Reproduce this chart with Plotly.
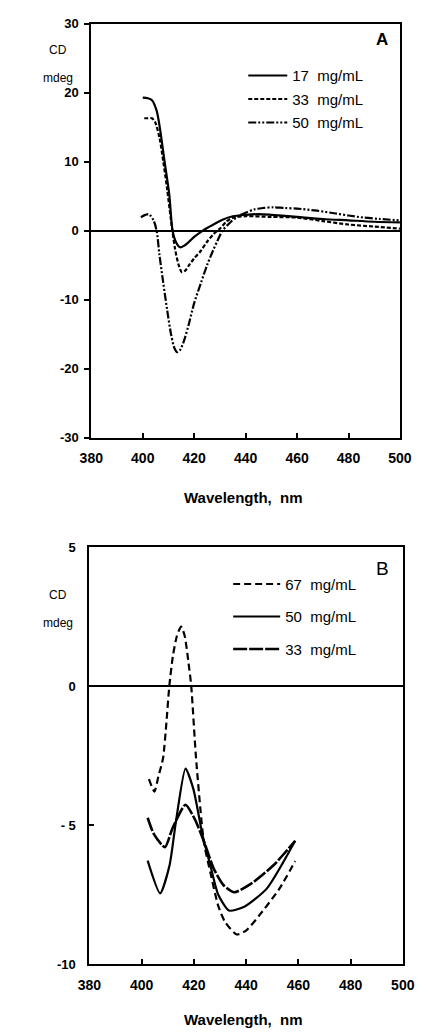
import plotly.graph_objects as go

# ---------------- Panel A data ----------------
wl_a17 = [400, 402, 403.6, 405.4, 406.7, 408.5, 410.3, 411.6, 413, 414.5, 416, 418, 420, 422.5, 425, 428, 431, 435, 440, 445, 450, 460, 470, 480, 490, 500]
cd_a17 = [19.3, 19.2, 18.9, 17.4, 14.8, 10.0, 5.3, 0.0, -1.7, -2.4, -2.2, -1.6, -0.9, -0.2, 0.4, 1.0, 1.6, 2.1, 2.3, 2.4, 2.3, 2.0, 1.7, 1.5, 1.3, 1.2]

wl_a33 = [400.6, 402, 403.6, 404.8, 406.5, 408, 409.5, 411, 412.5, 414, 415.2, 416.5, 418, 420, 422.6, 425, 427.5, 430, 432.5, 435, 440, 450, 460, 470, 480, 490, 500]
cd_a33 = [16.3, 16.3, 16.3, 15.75, 13.5, 10.0, 6.0, 1.5, -2.5, -5.0, -6.0, -5.8, -5.0, -4.0, -2.9, -1.6, -0.5, 0.3, 1.3, 1.9, 2.1, 2.0, 1.9, 1.4, 0.9, 0.6, 0.3]

wl_a50 = [399.3, 401, 402.4, 404.2, 405.4, 406.5, 408, 409.5, 411, 412.3, 413.4, 414.5, 416, 417.8, 420, 422.6, 425, 427.3, 429, 431, 434, 437, 440, 443.4, 447, 450.7, 455, 460, 467.8, 475, 480, 486, 492.3, 500]
cd_a50 = [1.95, 2.3, 2.4, 1.5, 0.0, -3.5, -7.6, -11.5, -15.0, -17.0, -17.6, -17.3, -16.0, -13.7, -10.5, -7.6, -5.0, -2.9, -1.5, 0.0, 1.2, 2.1, 2.6, 3.1, 3.3, 3.4, 3.3, 3.2, 2.9, 2.5, 2.2, 1.9, 1.7, 1.5]

# ---------------- Panel B data ----------------
wl_b67 = [402.8, 404.9, 406.4, 408.2, 409.5, 410.6, 412, 413.5, 415.1, 416.5, 418, 419, 420.8, 423.8, 426.3, 429.3, 432, 436.4, 440, 445.5, 452.7, 458.8]
cd_b67 = [-3.35, -3.8, -3.26, -2.6, -1.3, 0.0, 1.1, 1.8, 2.14, 1.8, 0.8, 0.0, -2.55, -5.6, -6.7, -7.9, -8.5, -8.94, -8.8, -8.2, -7.3, -6.3]

wl_b50 = [402.3, 407.1, 410.7, 413.1, 416.8, 419.8, 423.4, 426.3, 429.3, 433.5, 439.5, 448, 458.8]
cd_b50 = [-6.28, -7.46, -6.45, -4.9, -2.97, -3.7, -5.4, -6.45, -7.5, -8.08, -7.93, -7.28, -5.57]

wl_b33 = [402.3, 404.7, 408.9, 411.9, 416.8, 420.4, 424, 427.6, 431.3, 435.5, 442.1, 450.5, 458.8]
cd_b33 = [-4.74, -5.33, -5.8, -5.1, -4.27, -4.8, -5.63, -6.57, -7.16, -7.42, -7.1, -6.45, -5.57]

x_ticks = [380, 400, 420, 440, 460, 480, 500]
ya_ticks = [-30, -20, -10, 0, 10, 20, 30]
ya_text = ["-30", "-20", "-10", "0", "10", "20", "30"]
yb_ticks = [-10, -5, 0, 5]
yb_text = ["-10", "- 5", "0", "5"]

FONT = "Liberation Sans"
BLACK = "#000000"

fig = go.Figure()

# Panel A traces
fig.add_trace(go.Scatter(x=wl_a17, y=cd_a17, mode="lines", name="17\u00a0 mg/mL",
                         line=dict(color=BLACK, width=2.2, shape="spline", smoothing=0.8),
                         xaxis="x", yaxis="y", legend="legend", legendgroup="a1"))
fig.add_trace(go.Scatter(x=wl_a33, y=cd_a33, mode="lines", name="33\u00a0 mg/mL",
                         line=dict(color=BLACK, width=2.2, dash="4px,2px", shape="spline", smoothing=0.8),
                         xaxis="x", yaxis="y", legend="legend", legendgroup="a2"))
fig.add_trace(go.Scatter(x=wl_a50, y=cd_a50, mode="lines", name="50\u00a0 mg/mL",
                         line=dict(color=BLACK, width=2.2, dash="8px,2px,2px,2px,2px,2px", shape="spline", smoothing=0.8),
                         xaxis="x", yaxis="y", legend="legend", legendgroup="a3"))

# Panel B traces
fig.add_trace(go.Scatter(x=wl_b67, y=cd_b67, mode="lines", name="67\u00a0 mg/mL",
                         line=dict(color=BLACK, width=2.2, dash="7px,4px", shape="spline", smoothing=0.6),
                         xaxis="x2", yaxis="y2", legend="legend2", legendgroup="b1"))
fig.add_trace(go.Scatter(x=wl_b50, y=cd_b50, mode="lines", name="50\u00a0 mg/mL",
                         line=dict(color=BLACK, width=2.2, shape="spline", smoothing=0.6),
                         xaxis="x2", yaxis="y2", legend="legend2", legendgroup="b2"))
fig.add_trace(go.Scatter(x=wl_b33, y=cd_b33, mode="lines", name="33\u00a0 mg/mL",
                         line=dict(color=BLACK, width=2.6, dash="14px,2px", shape="spline", smoothing=0.6),
                         xaxis="x2", yaxis="y2", legend="legend2", legendgroup="b3"))

W, H = 428, 1036

def px(xp):
    return xp / W

def py(yp):
    return 1 - yp / H

xcommon = dict(range=[380, 500], tickvals=x_ticks, ticks="inside", ticklen=5, tickwidth=1.5,
               tickcolor=BLACK, showline=True, linewidth=2, linecolor=BLACK, mirror=True,
               showgrid=False, zeroline=False, ticklabelstandoff=7,
               tickfont=dict(family=FONT, size=14, color=BLACK, weight="bold"))

fig.update_layout(
    width=W, height=H,
    margin=dict(l=0, r=0, t=0, b=0),
    paper_bgcolor="white", plot_bgcolor="white",
    showlegend=True,
    xaxis=dict(domain=[px(84), px(411)], anchor="y", **xcommon),
    yaxis=dict(domain=[py(437), py(17)], anchor="x", range=[-30, 30], tickvals=ya_ticks, ticktext=ya_text,
               ticks="outside", ticklen=5, tickwidth=1.5, tickcolor=BLACK, ticklabelstandoff=3,
               showline=True, linewidth=2, linecolor=BLACK, mirror=True, showgrid=False,
               zeroline=True, zerolinecolor=BLACK, zerolinewidth=1.6,
               tickfont=dict(family=FONT, size=13, color=BLACK, weight="bold")),
    xaxis2=dict(domain=[px(82), px(414)], anchor="y2", **xcommon),
    yaxis2=dict(domain=[py(971), py(548)], anchor="x2", range=[-10, 5], tickvals=yb_ticks, ticktext=yb_text,
                ticks="inside", ticklen=5, tickwidth=1.5, tickcolor=BLACK, ticklabelstandoff=9,
                showline=True, linewidth=2, linecolor=BLACK, mirror=True, showgrid=False,
                zeroline=True, zerolinecolor=BLACK, zerolinewidth=1.6,
                tickfont=dict(family=FONT, size=13, color=BLACK, weight="bold")),
    legend=dict(x=px(245), y=py(53), xanchor="left", yanchor="top", bgcolor="rgba(0,0,0,0)",
                font=dict(family=FONT, size=15, color=BLACK), tracegroupgap=1,
                itemwidth=39),
    legend2=dict(x=px(229), y=py(569), xanchor="left", yanchor="top", bgcolor="rgba(0,0,0,0)",
                 font=dict(family=FONT, size=15, color=BLACK), tracegroupgap=10,
                 itemwidth=47),
)

ann = []
def add_text(t, x, y, size, bold=False):
    ann.append(dict(text=t, x=px(x), y=py(y), xref="paper", yref="paper", showarrow=False,
                    xanchor="center", yanchor="middle",
                    font=dict(family=FONT, size=size, color=BLACK, weight="bold" if bold else "normal")))

add_text("CD", 49, 44, 12)
add_text("mdeg", 49, 72, 12)
add_text("A", 392, 33, 17, bold=True)
add_text("Wavelength,\u00a0 nm", 245, 498, 15, bold=True)

add_text("CD", 49, 597, 12)
add_text("mdeg", 49, 625, 12)
add_text("B", 392, 570, 19)
add_text("Wavelength,\u00a0 nm", 245, 1027, 15, bold=True)

fig.update_layout(annotations=ann)

fig.write_html("out.html")
